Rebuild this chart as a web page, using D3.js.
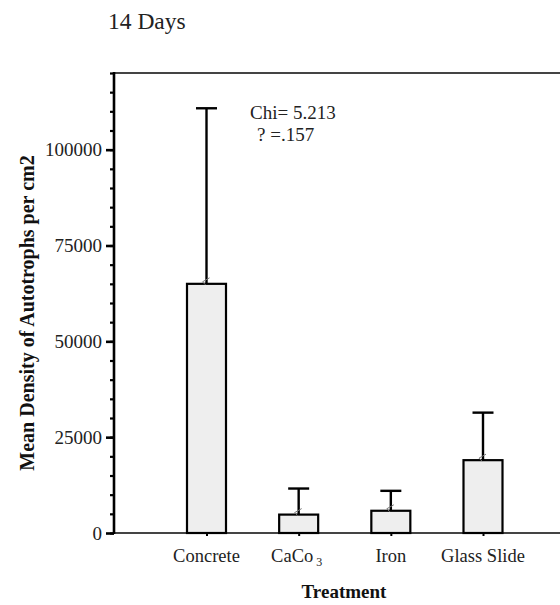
<!DOCTYPE html>
<html>
<head>
<meta charset="utf-8">
<script src="https://cdn.jsdelivr.net/npm/d3@7"></script>
<style>
  body { margin: 0; background: #fff; }
  svg { display: block; font-family: "Liberation Serif", "Times New Roman", serif; }
  .domain { display: none; }
</style>
</head>
<body>
<svg id="chart" width="560" height="605"></svg>
<script>
"use strict";

// data
const categories = ["Concrete", "CaCo3", "Iron", "Glass Slide"];
const means = [65000, 4800, 5800, 19000];
const upperErr = [110800, 11600, 11000, 31400];
const majorTicks = [0, 25000, 50000, 75000, 100000];

let svg = d3.select("#chart");

let plotLeft = 114, plotRight = 560, plotTop = 73, plotBottom = 533;

let y = d3.scaleLinear()
          .domain([0, 120000])
          .range([plotBottom, plotTop]);

let x = d3.scalePoint()
          .domain(categories)
          .range([206.5, 483]);

let barW = 39, capW = 21;

// minor ticks every 5000
svg.append("g")
   .attr("transform", "translate(" + plotLeft + ",0)")
   .call(d3.axisLeft(y).tickValues(d3.range(0, 120001, 5000)).tickSize(4).tickFormat(""))
   .call(g => g.selectAll(".tick line").attr("stroke", "#000").attr("stroke-width", 2.2));

// major ticks with labels
svg.append("g")
   .attr("transform", "translate(" + plotLeft + ",0)")
   .call(d3.axisLeft(y).tickValues(majorTicks).tickSize(8).tickPadding(4).tickFormat(d3.format("d")))
   .call(g => {
       g.selectAll(".tick line").attr("stroke", "#000").attr("stroke-width", 2.6);
       g.selectAll(".tick text")
        .attr("font-family", "Liberation Serif, serif")
        .attr("font-size", 19)
        .attr("fill", "#222");
   });

// frame lines
svg.append("line")
   .attr("x1", plotLeft).attr("x2", plotRight)
   .attr("y1", y(120000)).attr("y2", y(120000))
   .attr("stroke", "#444").attr("stroke-width", 2);

svg.append("line")
   .attr("x1", plotLeft).attr("x2", plotRight)
   .attr("y1", y(0)).attr("y2", y(0))
   .attr("stroke", "#444").attr("stroke-width", 2);

svg.append("line")
   .attr("x1", plotLeft).attr("x2", plotLeft)
   .attr("y1", y(120000) - 1).attr("y2", y(0) + 1)
   .attr("stroke", "#000").attr("stroke-width", 2.6);

// bottom ticks under each bar
svg.append("g")
   .attr("transform", "translate(0," + y(0) + ")")
   .call(d3.axisBottom(x).tickSize(3).tickFormat(""))
   .call(g => g.selectAll(".tick line").attr("stroke", "#000").attr("stroke-width", 2));

// error bars (upper only)
let err = svg.append("g").attr("stroke", "#000").attr("stroke-width", 2.4);
categories.forEach((c, i) => {
    err.append("line")
       .attr("x1", x(c)).attr("x2", x(c))
       .attr("y1", y(means[i])).attr("y2", y(upperErr[i]));
    err.append("line")
       .attr("x1", x(c) - capW / 2).attr("x2", x(c) + capW / 2)
       .attr("y1", y(upperErr[i])).attr("y2", y(upperErr[i]));
});

// bars
svg.append("g")
   .selectAll("rect")
   .data(categories)
   .join("rect")
   .attr("x", d => x(d) - barW / 2)
   .attr("y", (d, i) => y(means[i]))
   .attr("width", barW)
   .attr("height", (d, i) => y(0) - y(means[i]))
   .attr("fill", "#eeeeee")
   .attr("stroke", "#000")
   .attr("stroke-width", 2.2);

// little grey marks at the mean
svg.append("g")
   .selectAll("path")
   .data(categories)
   .join("path")
   .attr("d", (d, i) => {
       let cx = x(d), cy = y(means[i]);
       return "M" + (cx - 4) + "," + (cy - 2) + "L" + (cx + 3) + "," + (cy - 6) +
              "M" + (cx - 4) + "," + (cy - 2) + "L" + (cx - 1) + "," + (cy + 1);
   })
   .attr("fill", "none")
   .attr("stroke", "#777")
   .attr("stroke-width", 1);

// category labels
let labels = svg.append("g")
                .attr("font-size", 18.5)
                .attr("fill", "#222")
                .attr("text-anchor", "middle");
categories.forEach(c => {
    let t = labels.append("text")
                  .attr("x", x(c))
                  .attr("y", 561.5);
    if (c == "CaCo3")
    {
        t.attr("x", x(c) - 2);
        t.append("tspan").text("CaCo");
        t.append("tspan").attr("font-size", 12).attr("dx", 3).attr("dy", 4).text("3");
    }
    else
        t.text(c);
});

// titles
svg.append("text")
   .attr("x", 108).attr("y", 29)
   .attr("font-size", 23.5)
   .attr("fill", "#222")
   .text("14 Days");

svg.append("text")
   .attr("x", 344).attr("y", 598)
   .attr("text-anchor", "middle")
   .attr("font-size", 19)
   .attr("font-weight", "bold")
   .attr("fill", "#111")
   .text("Treatment");

svg.append("text")
   .attr("transform", "translate(34,313) rotate(-90)")
   .attr("text-anchor", "middle")
   .attr("font-size", 20)
   .attr("font-weight", "bold")
   .attr("fill", "#111")
   .text("Mean Density of Autotrophs per cm2");

// statistics note
svg.append("text")
   .attr("x", 250).attr("y", 119)
   .attr("font-size", 19)
   .attr("fill", "#222")
   .text("Chi= 5.213");

svg.append("text")
   .attr("x", 257).attr("y", 141)
   .attr("font-size", 19)
   .attr("fill", "#222")
   .text("? =.157");
</script>
</body>
</html>
